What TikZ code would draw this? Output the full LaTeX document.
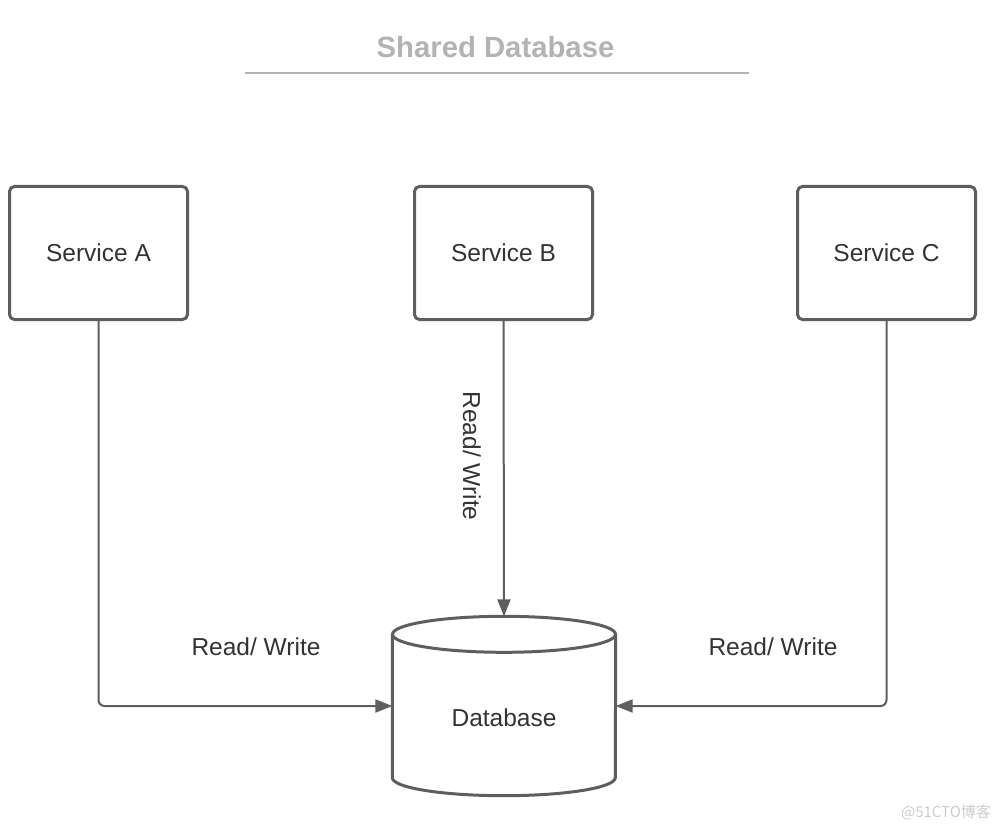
\documentclass[tikz,border=0pt]{standalone}
\usepackage{fontspec}
\setmainfont{Liberation Sans}
\newfontfamily\cjkfont{Noto Sans CJK SC}
\usetikzlibrary{arrows.meta}
\definecolor{linegray}{HTML}{5E5E5E}
\definecolor{textgray}{HTML}{333333}
\definecolor{titlegray}{HTML}{B3B3B3}

\begin{document}
\begin{tikzpicture}[x=1pt, y=-1pt,
    service/.style={draw=linegray, line width=3pt, rounded corners=5pt, minimum width=178pt, minimum height=133pt, inner sep=0pt, text=textgray, font=\fontsize{24.5}{28}\selectfont},
    flow/.style={draw=linegray, line width=2pt, rounded corners=6pt, -{Triangle[length=17pt, width=13pt]}},
    rw/.style={text=textgray, font=\fontsize{24.5}{28}\selectfont}]
                \useasboundingbox (0, 0) rectangle (1006, 829);

                \node[text=titlegray, font=\bfseries\fontsize{29.3}{34}\selectfont] (title) at (495.5, 47) {Shared Database};
                \draw[titlegray, line width=2pt] (245, 73)--(749, 73);

                \foreach \n/\x in {A/98.5, B/503.5, C/886.5}
                    {
                        \node[service] (\n) at (\x, 253) {Service \n};
                    }

                % database cylinder
                \node[minimum width=223pt, minimum height=179pt, inner sep=0pt] (db) at (504, 706) {};
                \draw[linegray, line width=3pt] ([yshift=-18pt]db.north west)--([yshift=18pt]db.south west)
                    arc[start angle=180, end angle=360, x radius=111.5pt, y radius=18pt]--([yshift=-18pt]db.north east);
                \draw[linegray, line width=3pt] ([yshift=-18pt]db.north) ellipse[x radius=111.5pt, y radius=18pt];
                \node[rw] (dbtext) at ([yshift=-12pt]db.center) {Database};

                \draw[flow] (A.south) |- (db.west);
                \draw[flow] (B.south)--(db.north);
                \draw[flow] (C.south) |- (db.east);

                \node[rw] (rwA) at (256, 647) {Read/ Write};
                \node[rw, rotate=-90] (rwB) at (472, 456) {Read/ Write};
                \node[rw] (rwC) at (773, 647) {Read/ Write};

                \node[text=black!20, font=\cjkfont\fontsize{15}{18}\selectfont] (mark) at (946, 812) {@51CTO博客};
\end{tikzpicture}
\end{document}
